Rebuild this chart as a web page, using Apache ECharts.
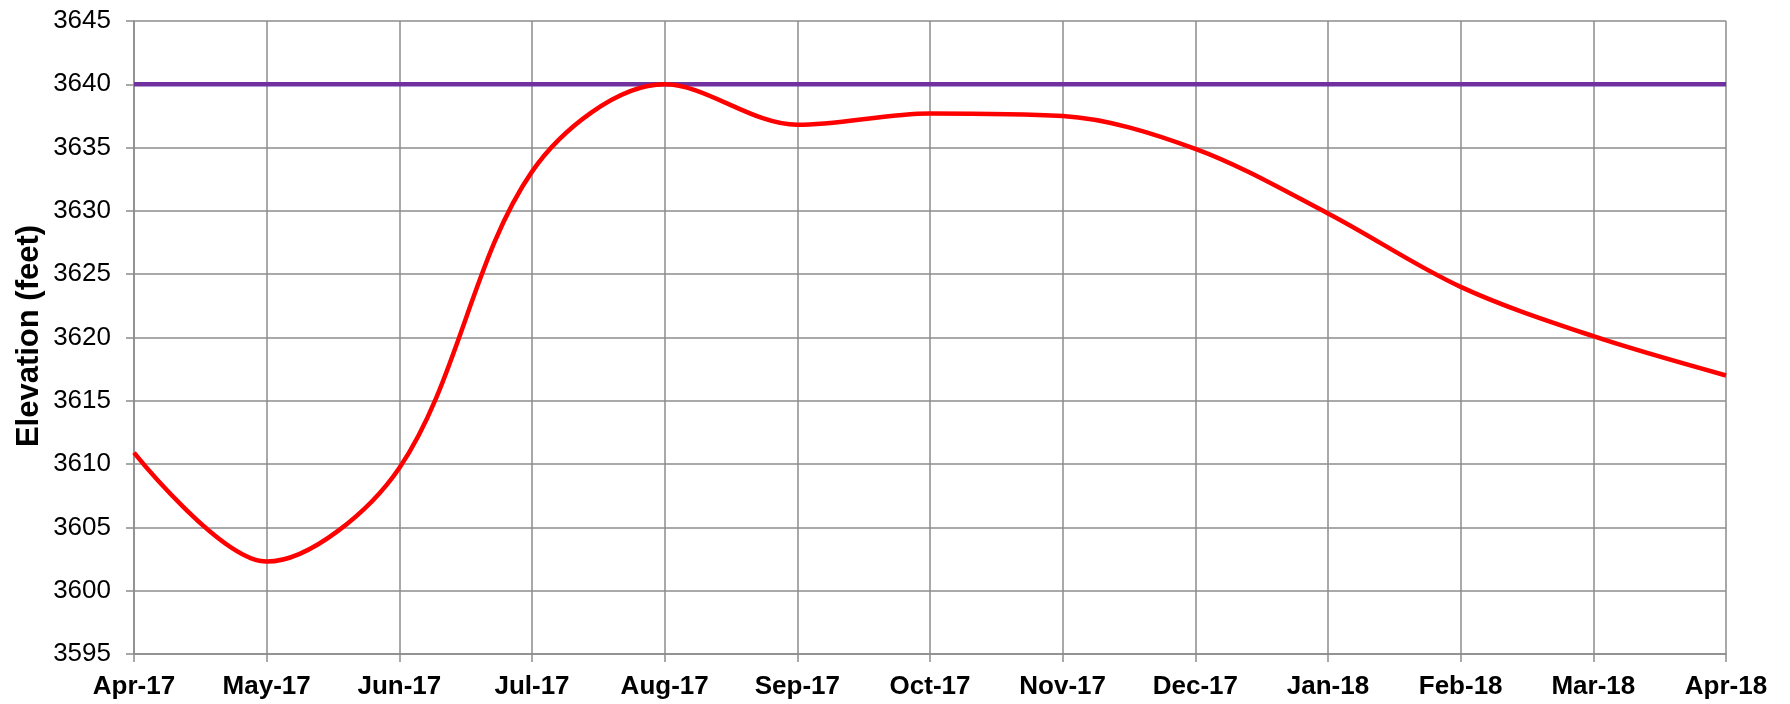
<!DOCTYPE html>
<html>
<head>
<meta charset="utf-8">
<script src="https://cdn.jsdelivr.net/npm/echarts@6/dist/echarts.min.js"></script>
<style>
html,body{margin:0;padding:0;background:#fff;}
#chart{width:1790px;height:704px;}
</style>
</head>
<body>
<div id="chart"></div>
<script>
var months = ['Apr-17','May-17','Jun-17','Jul-17','Aug-17','Sep-17','Oct-17','Nov-17','Dec-17','Jan-18','Feb-18','Mar-18','Apr-18'];
var elevation = [3610.9, 3602.3, 3609.7, 3633.1, 3640.0, 3636.8, 3637.7, 3637.5, 3634.9, 3629.8, 3624.0, 3620.1, 3617.0];
var fullPool = [3640, 3640, 3640, 3640, 3640, 3640, 3640, 3640, 3640, 3640, 3640, 3640, 3640];
var yTitle = 'Elevation (feet)';
var yMin = 3595, yMax = 3645, yStep = 5;

var chart = echarts.init(document.getElementById('chart'), null, {renderer:'canvas'});
var gridColor = '#8c8c8c';
var font = 'Liberation Sans, Arial, sans-serif';
chart.setOption({
  animation: false,
  backgroundColor: '#ffffff',
  grid: {left: 134, right: 64, top: 21, bottom: 50, containLabel: false},
  graphic: [{
    type: 'text',
    x: 29, y: 336,
    rotation: Math.PI / 2,
    style: {text: yTitle, fill: '#000', font: 'bold 31px ' + font, textAlign: 'center', textVerticalAlign: 'middle'}
  }],
  xAxis: {
    type: 'category',
    data: months,
    boundaryGap: false,
    axisLine: {show: true, lineStyle: {color: gridColor, width: 1.5}},
    axisTick: {show: true, inside: false, length: 8, interval: 0, alignWithLabel: true, lineStyle: {color: gridColor, width: 1.5}},
    splitLine: {show: true, interval: 0, lineStyle: {color: gridColor, width: 1.5}},
    axisLabel: {interval: 0, margin: 20, color: '#000', fontFamily: font, fontWeight: 'bold', fontSize: 26}
  },
  yAxis: {
    type: 'value',
    min: yMin, max: yMax, interval: yStep,
    axisLine: {show: true, lineStyle: {color: gridColor, width: 1.5}},
    axisTick: {show: true, inside: false, length: 8, lineStyle: {color: gridColor, width: 1.5}},
    splitLine: {show: true, lineStyle: {color: gridColor, width: 1.5}},
    axisLabel: {margin: 23, color: '#000', fontFamily: font, fontSize: 26, formatter: function (v) { return String(v); }}
  },
  series: [
    {
      name: 'Full Pool',
      type: 'line',
      data: fullPool,
      symbol: 'none',
      lineStyle: {color: '#7030A0', width: 4.5},
      z: 3
    },
    {
      name: 'Elevation',
      type: 'line',
      data: elevation,
      symbol: 'none',
      smooth: 0.33,
      lineStyle: {color: '#FF0000', width: 4.5},
      z: 4
    }
  ]
});
</script>
</body>
</html>
